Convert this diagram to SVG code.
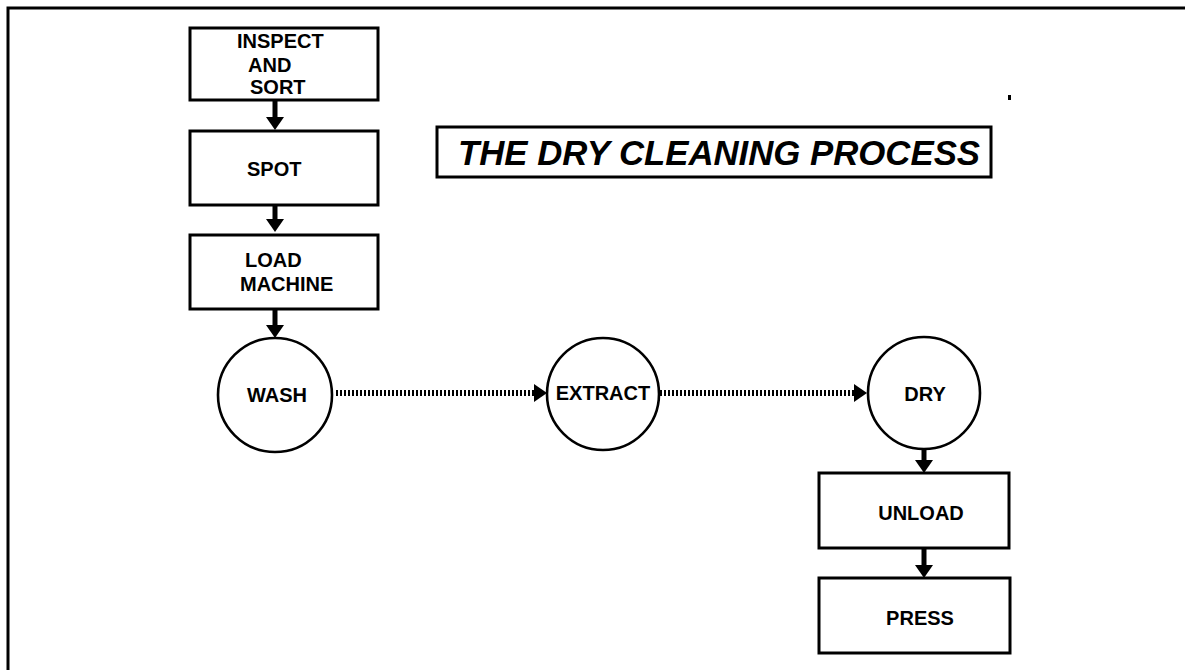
<svg xmlns="http://www.w3.org/2000/svg" width="1185" height="670" viewBox="0 0 1185 670">
<style>
.box{fill:#fff;stroke:#000;stroke-width:3}
.circ{fill:#fff;stroke:#000;stroke-width:2.6}
.lbl{font-family:"Liberation Sans",Arial,sans-serif;font-weight:bold;font-size:20px;fill:#000}
.title{font-family:"Liberation Sans",Arial,sans-serif;font-weight:bold;font-style:italic;font-size:35px;fill:#000}
.solid{stroke:#000;stroke-width:5;fill:none}
.dotted{stroke:#000;stroke-width:6;fill:none;stroke-dasharray:2 2}
</style>
<defs>
<marker id="ah" markerUnits="userSpaceOnUse" markerWidth="14" markerHeight="20" refX="0" refY="9" orient="auto" viewBox="0 0 14 20">
<path d="M0,0 L13,9 L0,18 Z" fill="#000"/>
</marker>
</defs>
<rect width="1185" height="670" fill="#fff"/>
<path d="M8,670 V8 H1185" fill="none" stroke="#000" stroke-width="3"/>
<rect x="1008" y="95" width="3" height="5" fill="#000"/>

<g id="title">
<rect class="box" x="437" y="127" width="554" height="50"/>
<text class="title" x="458" y="165" textLength="522" lengthAdjust="spacingAndGlyphs">THE DRY CLEANING PROCESS</text>
</g>

<g id="inspect">
<rect class="box" x="190" y="28" width="188" height="72"/>
<text class="lbl" x="237" y="48">INSPECT</text>
<text class="lbl" x="248" y="72">AND</text>
<text class="lbl" x="250" y="94">SORT</text>
</g>

<g id="spot">
<rect class="box" x="190" y="131" width="188" height="74"/>
<text class="lbl" x="247" y="176">SPOT</text>
</g>

<g id="load">
<rect class="box" x="190" y="235" width="188" height="74"/>
<text class="lbl" x="245" y="267">LOAD</text>
<text class="lbl" x="240" y="291">MACHINE</text>
</g>

<g id="wash">
<circle class="circ" cx="275" cy="395" r="57"/>
<text class="lbl" x="277" y="402" text-anchor="middle">WASH</text>
</g>

<g id="extract">
<circle class="circ" cx="603" cy="394" r="56"/>
<text class="lbl" x="603" y="400" text-anchor="middle">EXTRACT</text>
</g>

<g id="dry">
<circle class="circ" cx="924" cy="393" r="56"/>
<text class="lbl" x="925" y="401" text-anchor="middle">DRY</text>
</g>

<g id="unload">
<rect class="box" x="819" y="473" width="190" height="75"/>
<text class="lbl" x="921" y="520" text-anchor="middle">UNLOAD</text>
</g>

<g id="press">
<rect class="box" x="819" y="578" width="191" height="75"/>
<text class="lbl" x="920" y="625" text-anchor="middle">PRESS</text>
</g>

<g id="connectors">
<line class="solid" x1="275" y1="101" x2="275" y2="117" marker-end="url(#ah)"/>
<line class="solid" x1="275" y1="206" x2="275" y2="219" marker-end="url(#ah)"/>
<line class="solid" x1="275" y1="310" x2="275" y2="325" marker-end="url(#ah)"/>
<line class="dotted" x1="336" y1="393" x2="534" y2="393" marker-end="url(#ah)"/>
<line class="dotted" x1="660" y1="393" x2="854" y2="393" marker-end="url(#ah)"/>
<line class="solid" x1="924" y1="450" x2="924" y2="460" marker-end="url(#ah)"/>
<line class="solid" x1="924" y1="549" x2="924" y2="565" marker-end="url(#ah)"/>
</g>
</svg>
